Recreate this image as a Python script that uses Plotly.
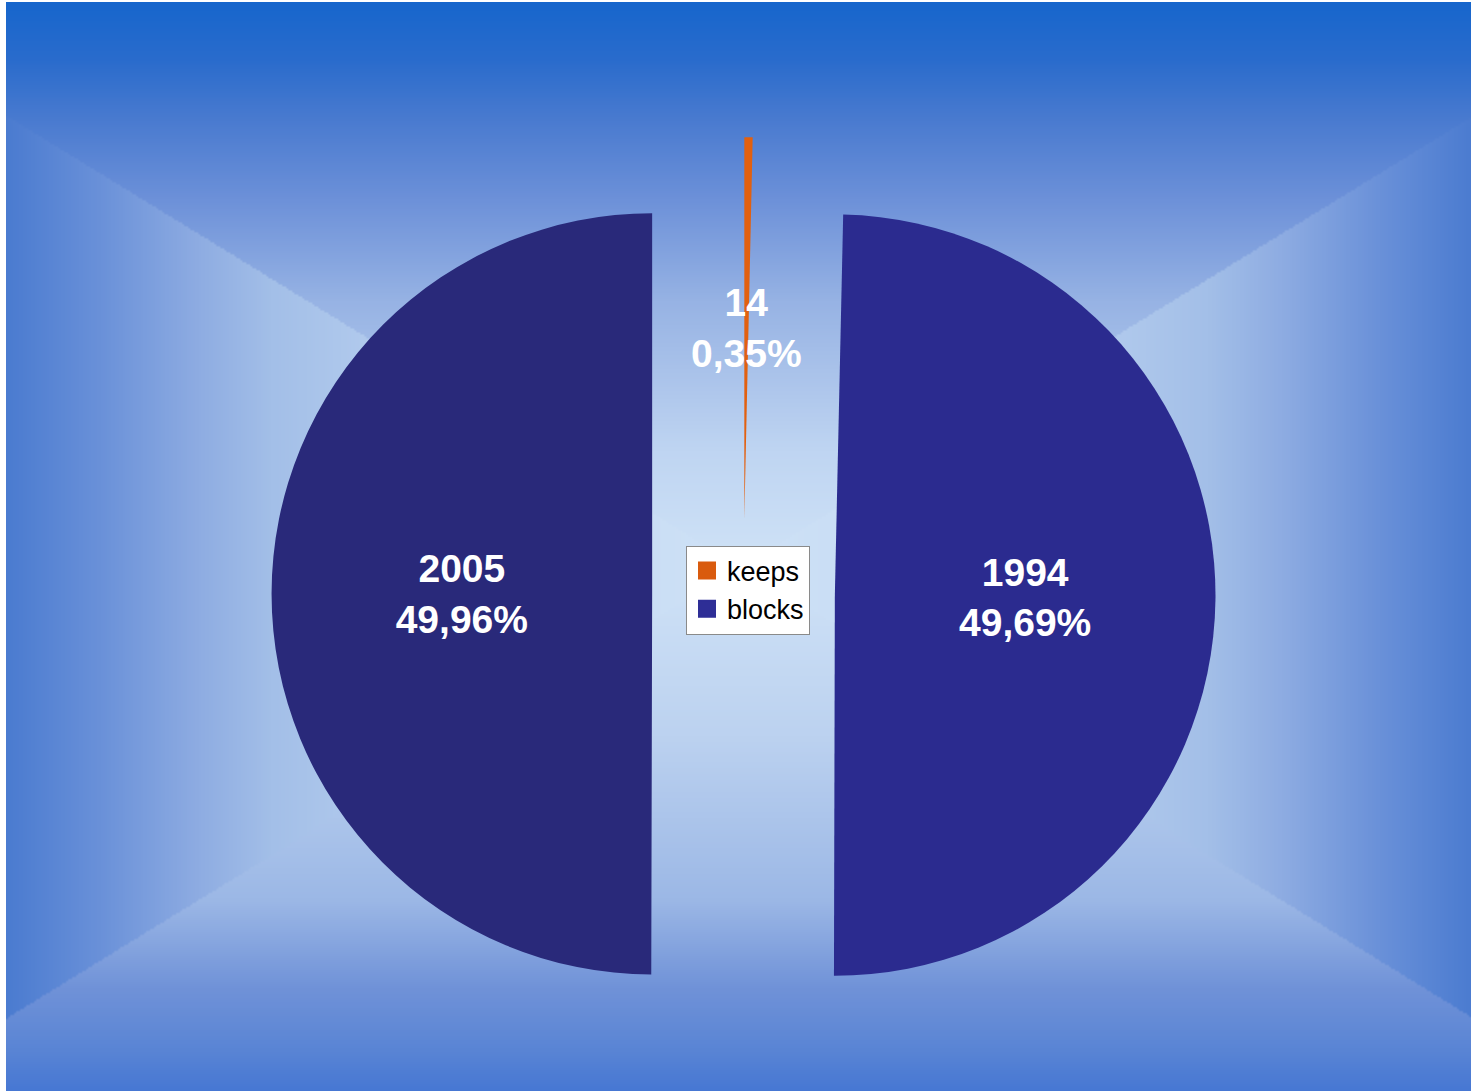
import zlib, struct, base64
import numpy as np
import plotly.graph_objects as go

# ---------------- data ----------------
slice_values = [14, 1994, 2005]
slice_ids = ["keeps", "blocks (1994)", "blocks (2005)"]
slice_colors = ["#e2600f", "#2b2b8f", "#29297a"]
slice_pulls = [0.20, 0.24, 0.24]
legend_names = ["keeps", "blocks"]
legend_colors = ["#d95b0e", "#2e2e96"]

W, H = 1471, 1091
ML, MR, MT, MB = 100, 84, 122, 25
PW, PH = W - ML - MR, H - MT - MB
FONT = "Liberation Sans, Arial, sans-serif"
LABEL_SIZE = 39


# ---------------- background gradient image ----------------
def hex2rgb(h):
    h = h.lstrip("#")
    return np.array([int(h[i:i + 2], 16) for i in (0, 2, 4)], dtype=float)


def ramp(t, stops):
    ts = [s[0] for s in stops]
    cols = np.array([hex2rgb(s[1]) for s in stops])
    return np.stack([np.interp(t, ts, cols[:, k]) for k in range(3)], axis=-1)


top_ramp = [(0, "#d0e3f7"), (0.207, "#bfd5f2"), (0.35, "#a9c2ea"), (0.47, "#97b3e4"),
            (0.65, "#6d91d9"), (0.79, "#4a7bd0"), (0.897, "#2a6ccc"), (1.0, "#1766cc")]
bot_ramp = [(0, "#d0e3f7"), (0.3, "#bcd2f0"), (0.588, "#9cb8e6"), (0.747, "#7092d8"),
            (0.853, "#5a85d5"), (0.93, "#4677d3")]
side_ramp = [(0, "#d0e3f7"), (0.3, "#bfd5f2"), (0.51, "#a3bfe8"), (0.59, "#8eace2"),
             (0.696, "#6a91d9"), (0.80, "#4a7bd0")]

X0, Y0, X1, Y1 = 6, 2, W, H
cx, cy, hw, hh = 740.0, 567.0, 920.0, 566.0
gw, gh = (X1 - X0) // 2, (Y1 - Y0) // 2
xs = X0 + (np.arange(gw) + 0.5) * (X1 - X0) / gw
ys = Y0 + (np.arange(gh) + 0.5) * (Y1 - Y0) / gh
XX, YY = np.meshgrid(xs, ys)
dx = np.abs(XX - cx) / hw
dy = np.abs(YY - cy) / hh
img = np.where((dy >= dx)[..., None],
               np.where((YY < cy)[..., None], ramp(dy, top_ramp), ramp(dy, bot_ramp)),
               ramp(dx, side_ramp))
img = np.clip(img, 0, 255).astype(np.uint8)


def png_uri(a):
    h, w, _ = a.shape
    a16 = a.astype(np.int16)
    filt = a16.copy()
    filt[:, 1:, :] = (a16[:, 1:, :] - a16[:, :-1, :]) % 256
    filt = filt.astype(np.uint8).reshape(h, w * 3)
    raw = b"".join(b"\x01" + filt[i].tobytes() for i in range(h))

    def chunk(t, d):
        c = struct.pack(">I", len(d)) + t + d
        return c + struct.pack(">I", zlib.crc32(t + d) & 0xffffffff)

    png = b"\x89PNG\r\n\x1a\n" + chunk(b"IHDR", struct.pack(">IIBBBBB", w, h, 8, 2, 0, 0, 0)) \
        + chunk(b"IDAT", zlib.compress(raw, 9)) + chunk(b"IEND", b"")
    return "data:image/png;base64," + base64.b64encode(png).decode()


bg_uri = png_uri(img)

# ---------------- figure ----------------
tmpl = "%{value}<br>%{percent:.2%}"
fig = go.Figure()
fig.add_trace(go.Pie(
    labels=slice_ids,
    values=slice_values,
    sort=False,
    direction="clockwise",
    rotation=0,
    pull=slice_pulls,
    marker=dict(colors=slice_colors, line=dict(width=0)),
    texttemplate=["", tmpl, tmpl],
    textposition="inside",
    insidetextorientation="horizontal",
    textfont=dict(family=FONT, size=LABEL_SIZE, color="white", weight="bold"),
    showlegend=False,
    hoverinfo="skip",
    domain=dict(x=[0, 1], y=[0, 1]),
))

# label of the thin slice, placed along its bisector (mid-slice, as in the original)
total = sum(slice_values)
r_px = min(PW, PH) / 2 / (1 + max(slice_pulls))
ang = np.deg2rad(90 - 360 * slice_values[0] / total / 2)
dist = (slice_pulls[0] + 0.5) * r_px
pct_txt = f"{100 * slice_values[0] / total:.2f}%".replace(".", ",")
fig.add_annotation(
    x=0.5 + dist * np.cos(ang) / PW, y=0.5 + dist * np.sin(ang) / PH,
    xref="paper", yref="paper", showarrow=False,
    xanchor="center", yanchor="middle",
    text=f"{slice_values[0]}<br>{pct_txt}",
    font=dict(family=FONT, size=LABEL_SIZE, color="white", weight="bold"),
)

for name, col in zip(legend_names, legend_colors):
    fig.add_trace(go.Scatter(
        x=[None], y=[None], mode="markers", name=name,
        marker=dict(symbol="square", size=16, color=col, line=dict(width=2, color=col)),
        showlegend=True, hoverinfo="skip",
    ))

fig.update_layout(
    width=W, height=H,
    margin=dict(l=ML, r=MR, t=MT, b=MB),
    paper_bgcolor="white",
    plot_bgcolor="rgba(0,0,0,0)",
    separators=", ",
    uniformtext=dict(minsize=LABEL_SIZE, mode="show"),
    xaxis=dict(visible=False),
    yaxis=dict(visible=False),
    legend=dict(
        x=(748 - ML) / PW, y=1 - (590 - MT) / PH, xanchor="center", yanchor="middle",
        bgcolor="white", bordercolor="#8a8a8a", borderwidth=1,
        font=dict(family=FONT, size=27, color="black"),
        itemwidth=30,
    ),
    images=[dict(
        source=bg_uri, xref="paper", yref="paper",
        x=(X0 - ML) / PW, y=1 - (Y0 - MT) / PH,
        sizex=(X1 - X0) / PW, sizey=(Y1 - Y0) / PH,
        xanchor="left", yanchor="top", sizing="stretch", layer="below",
    )],
)

fig.write_html("out.html")
